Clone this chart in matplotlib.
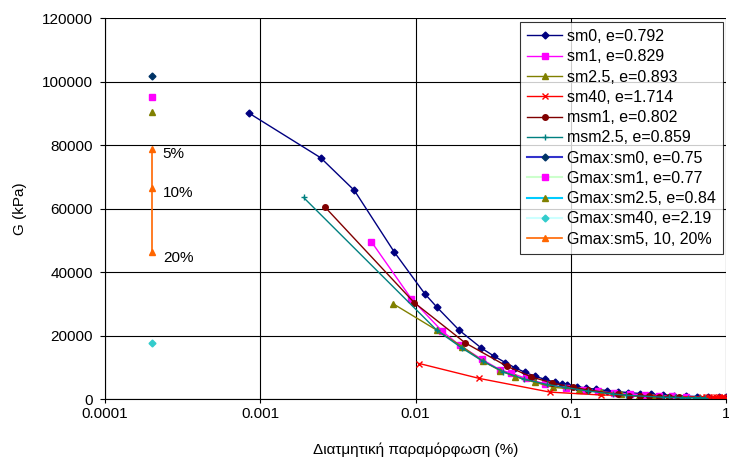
import numpy as np
import matplotlib
matplotlib.use("Agg")
import matplotlib.pyplot as plt
from matplotlib.ticker import FixedLocator, FixedFormatter, NullLocator

plt.rcParams['font.family'] = ['Liberation Sans', 'DejaVu Sans']

# shear strain (%) and G (kPa) for each test
sm0_x = [0.00085, 0.00245, 0.00404, 0.0073, 0.01146, 0.0137, 0.0191, 0.0265, 0.0321, 0.0379,
         0.044, 0.0504, 0.0586, 0.0686, 0.0788, 0.0879, 0.0942, 0.11, 0.125, 0.145, 0.17, 0.2,
         0.235, 0.28, 0.33, 0.39, 0.46, 0.55, 0.65, 0.77, 0.9, 1.0]
sm0_g = [90000, 76000, 65700, 46300, 33200, 29000, 21700, 16100, 13500, 11500,
         9800, 8500, 7200, 6200, 5300, 4700, 4400, 3900, 3500, 3100, 2700, 2350,
         2050, 1750, 1500, 1300, 1100, 950, 820, 700, 620, 560]

sm1_x = [0.00519, 0.0094, 0.01476, 0.0193, 0.0268, 0.0351, 0.0412, 0.0515, 0.0686, 0.0931,
         0.12, 0.15, 0.19, 0.24, 0.3, 0.37, 0.45, 0.55]
sm1_g = [49600, 31600, 21500, 16900, 12500, 9200, 8200, 6500, 4800, 3500,
         2900, 2400, 1900, 1600, 1350, 1100, 950, 800]

sm25_x = [0.00713, 0.0137, 0.02, 0.027, 0.035, 0.044, 0.0586, 0.0772, 0.1135, 0.156,
          0.21, 0.274, 0.34, 0.42]
sm25_g = [30100, 21700, 16500, 12000, 9000, 7000, 5300, 3700, 3000, 2300,
          1500, 900, 750, 600]

sm40_x = [0.01058, 0.0258, 0.0735, 0.156, 0.7, 0.74, 0.78, 0.82, 0.86, 0.9, 0.94, 0.97, 1.0]
sm40_g = [11200, 6500, 2200, 1300, 650, 620, 600, 580, 560, 540, 520, 510, 500]

msm1_x = [0.00262, 0.0098, 0.0209, 0.0386, 0.0557, 0.0754, 0.104, 0.129, 0.2, 0.238,
          0.28, 0.32, 0.37, 0.43, 0.5]
msm1_g = [60400, 30400, 17700, 10400, 7000, 5100, 3700, 2900, 1500, 1100,
          1000, 900, 800, 750, 700]

msm25_x = [0.0019, 0.0137, 0.02, 0.027, 0.0368, 0.05, 0.07, 0.092, 0.13, 0.188, 0.228,
           0.39, 0.43, 0.47, 0.52, 0.57, 0.63, 0.68, 0.73]
msm25_g = [63500, 21700, 16000, 12000, 8600, 6300, 4600, 3700, 2500, 1600, 1200,
           600, 550, 520, 500, 480, 460, 450, 440]

# Gmax values at very small strain
gmax_x = 0.0002
gmax_sm0 = 101800
gmax_sm1 = 95200
gmax_sm25 = 90500
gmax_sm40 = 17600
gmax_sm5_g = [78900, 66600, 46200]
gmax_sm5_lbl = ['5%', '10%', '20%']

fs = 11

fig = plt.figure(figsize=(7.29, 4.63), dpi=100)
ax = fig.add_axes([0.144, 0.138, 0.852, 0.823])

ms = 4
ax.plot(sm0_x, sm0_g, '-D', color='#000080', lw=1, ms=3.5, label='sm0, e=0.792')
ax.plot(sm1_x, sm1_g, '-s', color='#ff00ff', lw=1, ms=ms, label='sm1, e=0.829')
ax.plot(sm25_x, sm25_g, '-^', color='#808000', lw=1, ms=ms, label='sm2.5, e=0.893')
ax.plot(sm40_x, sm40_g, '-x', color='#ff0000', lw=1, ms=ms, label='sm40, e=1.714')
ax.plot(msm1_x, msm1_g, '-o', color='#800000', lw=1, ms=ms, label='msm1, e=0.802')
ax.plot(msm25_x, msm25_g, '-+', color='#008080', lw=1, ms=5, label='msm2.5, e=0.859')

ax.plot([gmax_x], [gmax_sm0], '-D', color='#3333cc', mfc='#003366', mec='#003366', ms=3.5,
        label='Gmax:sm0, e=0.75')
ax.plot([gmax_x], [gmax_sm1], '-s', color='#ccffcc', mfc='#ff00ff', mec='#ff00ff', ms=ms,
        label='Gmax:sm1, e=0.77')
ax.plot([gmax_x], [gmax_sm25], '-^', color='#00ccff', mfc='#808000', mec='#808000', ms=ms,
        label='Gmax:sm2.5, e=0.84')
ax.plot([gmax_x], [gmax_sm40], '-D', color='#ccffff', mfc='#33cccc', mec='#33cccc', ms=3.5,
        label='Gmax:sm40, e=2.19')
ax.plot([gmax_x] * 3, gmax_sm5_g, '-^', color='#ff6600', lw=1.2, ms=ms,
        label='Gmax:sm5, 10, 20%')
for g, t in zip(gmax_sm5_g, gmax_sm5_lbl):
    ax.annotate(t, (gmax_x, g), xytext=(8, -4), textcoords='offset points',
                fontsize=fs, va='center', ha='left')

ax.set_xscale('log')
ax.set_xlim(0.0001, 1)
ax.set_ylim(0, 120000)
ax.xaxis.set_major_locator(FixedLocator([0.0001, 0.001, 0.01, 0.1, 1]))
ax.xaxis.set_major_formatter(FixedFormatter(['0.0001', '0.001', '0.01', '0.1', '1']))
ax.xaxis.set_minor_locator(NullLocator())
ax.set_yticks(np.arange(0, 120001, 20000))
ax.set_yticklabels([str(v) for v in range(0, 120001, 20000)])

ax.grid(True, color='black', lw=0.8)
for s in ['top', 'right']:
    ax.spines[s].set_visible(False)
ax.spines['left'].set_linewidth(0.8)
ax.spines['bottom'].set_linewidth(0.8)
ax.tick_params(axis='both', labelsize=fs, direction='out', width=0.8)
ax.tick_params(axis='y', length=3.5, pad=5)
ax.tick_params(axis='x', length=3, pad=3)

ax.set_xlabel('Διατμητική παραμόρφωση (%)', fontsize=fs, labelpad=15)
ax.set_ylabel('G (kPa)', fontsize=fs, labelpad=11)

leg = ax.legend(loc='upper right', bbox_to_anchor=(0.995, 0.99), fontsize=11.5,
                frameon=True, fancybox=False, edgecolor='black', borderpad=0.45,
                labelspacing=0.33, handlelength=2.2, handletextpad=0.3, borderaxespad=0)
leg.get_frame().set_linewidth(0.8)

fig.savefig('out.png', dpi=100)
